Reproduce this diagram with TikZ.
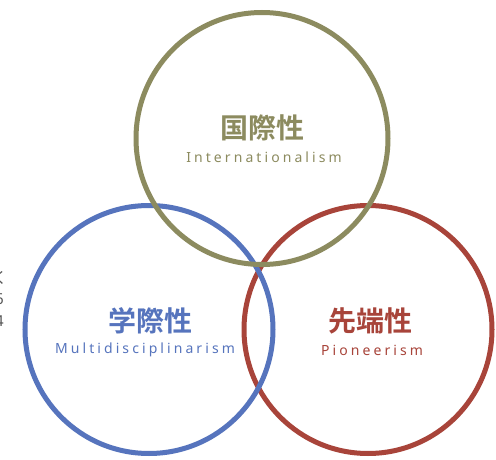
\documentclass[tikz,border=0pt]{standalone}
\usepackage{fontspec}
\setmainfont{Noto Sans}
\newfontfamily\cjkbold{Noto Sans CJK JP}[BoldFont=* Bold]
\newfontfamily\spaced{Noto Sans}[LetterSpace=22]
\definecolor{olivec}{HTML}{8C8B5F}
\definecolor{bluec}{HTML}{5674BD}
\definecolor{redc}{HTML}{A8443A}
\definecolor{frag}{HTML}{555555}
\begin{document}
\begin{tikzpicture}[x=1pt,y=-1pt,
  ring/.style={line width=5pt},
  title/.style={font=\cjkbold\bfseries\fontsize{28}{30}\selectfont, inner sep=0pt, anchor=center},
  sub/.style={font=\spaced\fontsize{14}{16}\selectfont, inner sep=0pt, anchor=center},
  fragtext/.style={font=\fontsize{15}{16}\selectfont, text=frag, inner sep=0pt, anchor=center}]
\useasboundingbox (0,0) rectangle (496,460);
\fill[white] (0,0) rectangle (496,460);
% circles: red, blue, olive (olive on top)
\draw[ring, redc] (368,329.5) circle (124);
\draw[ring, bluec] (149,329.5) circle (124);
\draw[ring, olivec] (262,138.5) circle (126);
% labels
\node[title, text=olivec] (t1) at (262,128) {国際性};
\node[sub, text=olivec] (s1) at (264,157) {Internationalism};
\node[title, text=bluec] (t2) at (150,321) {学際性};
\node[sub, text=bluec] (s2) at (145,350) {Multidisciplinarism};
\node[title, text=redc] (t3) at (370,321) {先端性};
\node[sub, text=redc] (s3) at (372,350) {Pioneerism};
% clipped fragments at left edge
\node[fragtext] (f1) at (-0.5,278) {\cjkbold く};
\node[fragtext] (f2) at (-0.5,299) {6};
\node[fragtext] (f3) at (-0.5,321) {4};
\end{tikzpicture}
\end{document}
